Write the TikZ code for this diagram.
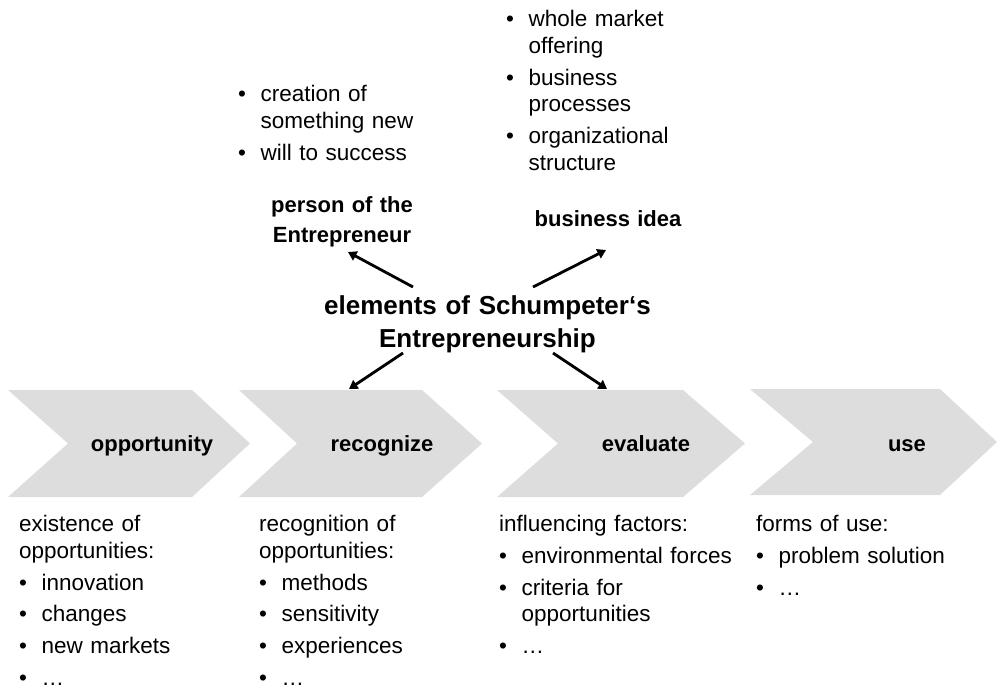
\documentclass[tikz,border=0pt]{standalone}
\usepackage{fontspec}
\setmainfont{Liberation Sans}
\usetikzlibrary{arrows.meta}
\definecolor{chevfill}{RGB}{221,221,221}
\newcommand\bl{\makebox[22.5pt][l]{•}}
\newcommand\ind{\hspace*{22.5pt}}
\tikzset{
  chev/.style={fill=chevfill,draw=none},
  body/.style={inner sep=0pt,anchor=base west,align=left,text width=280pt,
    font=\fontsize{22.5}{26.7}\selectfont},
  lab/.style={inner sep=0pt,anchor=base,align=center,text width=260pt,
    font=\fontsize{22}{30}\selectfont\bfseries},
  ttl/.style={inner sep=0pt,anchor=base,align=center,text width=420pt,
    font=\fontsize{26}{33}\selectfont\bfseries},
  arr/.style={line width=2.8pt,-{Triangle[length=8.5pt,width=10pt]}}
}
\begin{document}
\begin{tikzpicture}[x=1pt,y=-1pt]
\useasboundingbox (0,0) rectangle (997,687);
% chevrons
\fill[chev] (8,390) -- (192,390) -- (250,443.5) -- (192,497) -- (8,497) -- (68,443.5) -- cycle;
\fill[chev] (239,390) -- (422,390) -- (482,443.5) -- (422,497) -- (239,497) -- (297,443.5) -- cycle;
\fill[chev] (497,390) -- (683,390) -- (745,443.5) -- (683,497) -- (497,497) -- (558,443.5) -- cycle;
\fill[chev] (750,389) -- (940,389) -- (997,442) -- (940,495) -- (750,495) -- (813,442) -- cycle;
% chevron labels
\node[lab] (opp) at (152,451.7) {opportunity};
\node[lab] (rec) at (382,451.7) {recognize};
\node[lab] (eva) at (646,451) {evaluate};
\node[lab] (use) at (907,451) {use};
% title and elements
\node[ttl] (title) at (487.5,315) {elements of Schumpeter‘s\\Entrepreneurship};
\node[lab] (person) at (342,213) {person of the\\Entrepreneur};
\node[lab] (idea) at (608,227) {business idea};
% arrow end points
\coordinate (ulS) at (413,287);
\coordinate (ulE) at (348,252);
\coordinate (urS) at (533,287);
\coordinate (urE) at (606,250);
\coordinate (llS) at (403,353);
\coordinate (llE) at (349,389);
\coordinate (lrS) at (553,353);
\coordinate (lrE) at (607,389);
\draw[arr] (ulS) -- (ulE);
\draw[arr] (urS) -- (urE);
\draw[arr] (llS) -- (llE);
\draw[arr] (lrS) -- (lrE);
% upper lists
\node[body] (plist) at (238,101.7) {\bl creation of\\\ind something new\\[5pt]\bl will to success};
\node[body] (ilist) at (506,26.7) {\bl whole market\\\ind offering\\[5pt]\bl business\\\ind processes\\[5pt]\bl organizational\\\ind structure};
% lower lists
\node[body] (c1) at (19,531.7) {existence of\\opportunities:\\[5pt]\bl innovation\\[5pt]\bl changes\\[5pt]\bl new markets\\[5pt]\bl …};
\node[body] (c2) at (259,531.7) {recognition of\\opportunities:\\[5pt]\bl methods\\[5pt]\bl sensitivity\\[5pt]\bl experiences\\[5pt]\bl …};
\node[body] (c3) at (499,531.7) {influencing factors:\\[5pt]\bl environmental forces\\[5pt]\bl criteria for\\\ind opportunities\\[5pt]\bl …};
\node[body,text width=230pt] (c4) at (756,531.7) {forms of use:\\[5pt]\bl problem solution\\[5pt]\bl …};
\end{tikzpicture}
\end{document}
